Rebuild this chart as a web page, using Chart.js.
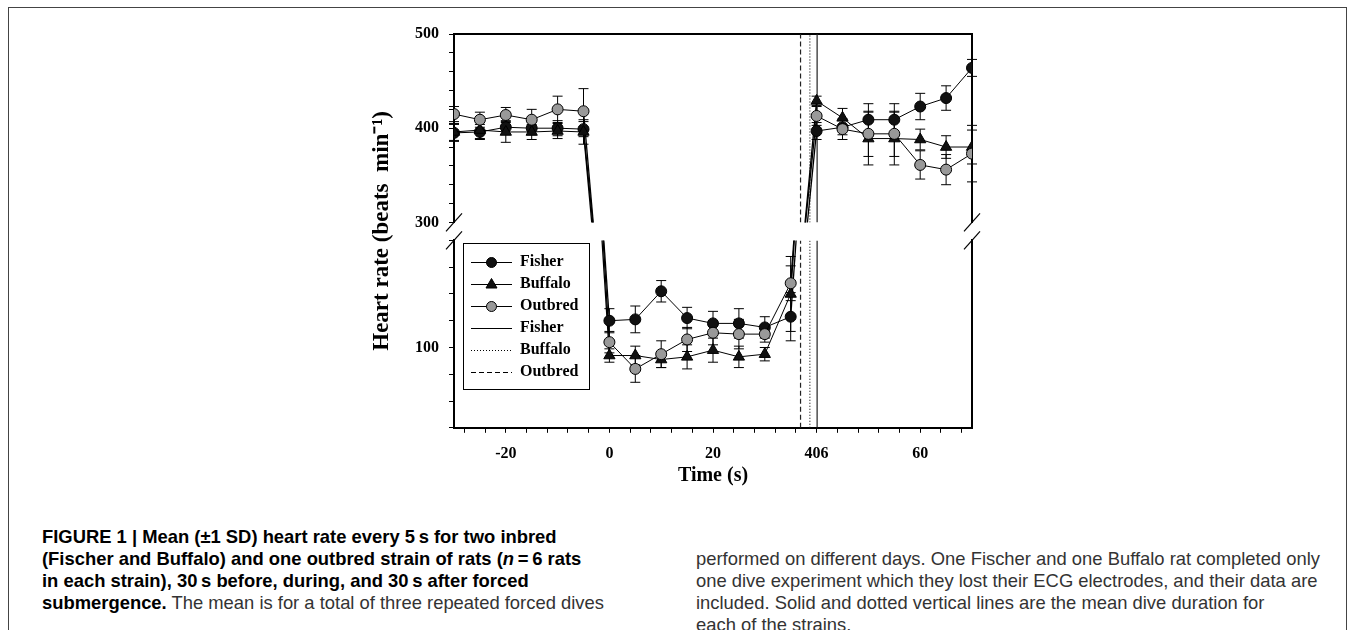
<!DOCTYPE html>
<html>
<head>
<meta charset="utf-8">
<script src="https://cdn.jsdelivr.net/npm/chart.js@4.4.1/dist/chart.umd.min.js"></script>
<style>
  body { margin: 0; background: #fff; width: 1355px; height: 630px; overflow: hidden; position: relative; }
  #frame { position: absolute; left: 8px; top: 7px; width: 1337px; height: 700px; border: 1px solid #444; border-bottom: none; }
  #hr { position: absolute; left: 0; top: 0; }
  .cap { position: absolute; font-family: 'Liberation Sans', Arial, sans-serif; font-size: 18.4px; line-height: 22px; color: #333; white-space: nowrap; }
  .cap b { color: #000; }
</style>
</head>
<body>
<div id="frame"></div>
<canvas id="hr" width="1355" height="500"></canvas>
<div class="cap" style="left:42px;top:526px">
<b>FIGURE 1 | Mean (±1 SD) heart rate every 5&#8201;s for two inbred</b><br>
<b>(Fischer and Buffalo) and one outbred strain of rats (<i>n</i>&#8201;=&#8201;6 rats</b><br>
<b>in each strain), 30&#8201;s before, during, and 30&#8201;s after forced</b><br>
<b>submergence.</b> The mean is for a total of three repeated forced dives
</div>
<div class="cap" style="left:696px;top:548px">
performed on different days. One Fischer and one Buffalo rat completed only<br>
one dive experiment which they lost their ECG electrodes, and their data are<br>
included. Solid and dotted vertical lines are the mean dive duration for<br>
each of the strains.
</div>
<script>
'use strict';

// time points (s)
const preTime = [-30, -25, -20, -15, -10, -5];
const diveTime = [0, 5, 10, 15, 20, 25, 30, 35];
const postTime = [40, 45, 50, 55, 60, 65, 70];

// mean heart rate (beats/min) and SD
const fisherPre = [395, 396, 401, 400, 400, 399];
const fisherPreSd = [9, 8, 7, 7, 8, 8];
const buffaloPre = [396, 398, 396, 396, 397, 396];
const buffaloPreSd = [9, 9, 11, 8, 8, 13];
const outbredPre = [415, 409, 414, 409, 420, 418];
const outbredPreSd = [8, 8, 8, 11, 14, 24];

const fisherDive = [120, 121, 142, 122, 118, 118, 115, 123];
const fisherDiveSd = [9, 10, 8, 8, 9, 11, 8, 18];
const buffaloDive = [94, 94, 91, 93, 98, 93, 95, 140];
const buffaloDiveSd = [5, 7, 6, 9, 9, 8, 5, 28];
const outbredDive = [104, 84, 95, 106, 111, 110, 110, 148];
const outbredDiveSd = [8, 10, 10, 9, 9, 11, 6, 13];

const fisherPost = [397, 401, 409, 409, 423, 432, 464];
const fisherPostSd = [9, 8, 17, 17, 14, 13, 9];
const buffaloPost = [429, 411, 389, 389, 388, 380, 380];
const buffaloPostSd = [5, 10, 28, 28, 11, 12, 18];
const outbredPost = [413, 399, 394, 394, 361, 356, 373];
const outbredPostSd = [10, 11, 24, 24, 15, 16, 30];

// mean dive duration per strain: Fisher, Buffalo, Outbred
const diveMeans = [40.1, 38.7, 36.9];

// broken y axis ranges
const upperRange = [300, 500];
const lowerRange = [40, 180];

// x tick marks every 4 s, only some labelled
const xTickStart = -28;
const xTickEnd = 68;
const xTickStep = 4;
const xTickLabels = { '-20': '-20', '0': '0', '20': '20', '40': '406', '60': '60' };

Chart.defaults.font.family = "'Liberation Serif', 'Times New Roman', serif";
Chart.defaults.font.weight = 'bold';
Chart.defaults.color = '#000';

function pts(times, vals) {
  return times.map((t, i) => ({ x: t, y: vals[i] }));
}

function sampleCanvas(dash, marker, fill) {
  let c = document.createElement('canvas');
  c.width = 52;
  c.height = 14;
  let g = c.getContext('2d');
  g.strokeStyle = '#000';
  g.lineWidth = 1;
  g.setLineDash(dash);
  g.beginPath();
  g.moveTo(11, 7.5);
  g.lineTo(52, 7.5);
  g.stroke();
  g.setLineDash([]);
  g.fillStyle = fill;
  if (marker === 'circle') {
    g.beginPath();
    g.arc(31.5, 7.5, 5, 0, Math.PI * 2);
    g.fill();
    g.stroke();
  } else if (marker === 'triangle') {
    g.beginPath();
    g.moveTo(31.5, 1.5);
    g.lineTo(37, 11);
    g.lineTo(26, 11);
    g.closePath();
    g.fill();
    g.stroke();
  }
  return c;
}

const strains = [
  { name: 'Fisher', pre: fisherPre, preSd: fisherPreSd, dive: fisherDive, diveSd: fisherDiveSd,
    post: fisherPost, postSd: fisherPostSd, marker: 'circle', radius: 5.5, fill: '#111', order: 3 },
  { name: 'Buffalo', pre: buffaloPre, preSd: buffaloPreSd, dive: buffaloDive, diveSd: buffaloDiveSd,
    post: buffaloPost, postSd: buffaloPostSd, marker: 'triangle', radius: 6.5, fill: '#111', order: 2 },
  { name: 'Outbred', pre: outbredPre, preSd: outbredPreSd, dive: outbredDive, diveSd: outbredDiveSd,
    post: outbredPost, postSd: outbredPostSd, marker: 'circle', radius: 5.5, fill: '#999', order: 1 }
];

const durationLines = [
  { name: 'Fisher', dash: [] },
  { name: 'Buffalo', dash: [1, 2] },
  { name: 'Outbred', dash: [5, 3] }
];

let datasets = [];

strains.forEach(s => {
  let seriesStyle = {
    borderColor: '#000', borderWidth: 1, pointStyle: s.marker, pointRadius: s.radius,
    pointBackgroundColor: s.fill, pointBorderColor: '#000', pointBorderWidth: 1, order: s.order
  };
  datasets.push(Object.assign({ label: s.name, data: pts(preTime, s.pre), sd: s.preSd, yAxisID: 'yTop' }, seriesStyle));
  datasets.push(Object.assign({ label: s.name, data: pts(diveTime, s.dive), sd: s.diveSd, yAxisID: 'yBot' }, seriesStyle));
  datasets.push(Object.assign({ label: s.name, data: pts(postTime, s.post), sd: s.postSd, yAxisID: 'yTop' }, seriesStyle));

  // lines crossing the axis break, clipped by each part of the axis
  let down = [
    { x: preTime[preTime.length - 1], y: s.pre[s.pre.length - 1] },
    { x: diveTime[0], y: s.dive[0] }
  ];
  let up = [
    { x: diveTime[diveTime.length - 1], y: s.dive[s.dive.length - 1] },
    { x: postTime[0], y: s.post[0] }
  ];
  ['yTop', 'yBot'].forEach(id => {
    [down, up].forEach(d => {
      datasets.push({ label: s.name, data: d, yAxisID: id, borderColor: '#000', borderWidth: 1.3,
        pointRadius: 0, clip: 0, order: 4 });
    });
  });
});

durationLines.forEach((l, i) => {
  datasets.push({ label: l.name, yAxisID: 'yTop', borderColor: '#222', borderWidth: 1.2, borderDash: l.dash,
    pointRadius: 0, order: 5,
    data: [{ x: diveMeans[i], y: upperRange[0] }, { x: diveMeans[i], y: upperRange[1] }] });
  datasets.push({ label: l.name, yAxisID: 'yBot', borderColor: '#222', borderWidth: 1.2, borderDash: l.dash,
    pointRadius: 0, order: 5,
    data: [{ x: diveMeans[i], y: lowerRange[0] }, { x: diveMeans[i], y: lowerRange[1] }] });
});

const legendRows = strains.map(s => ({ text: s.name, dash: [], marker: s.marker, fill: s.fill }))
  .concat(durationLines.map(l => ({ text: l.name, dash: l.dash, marker: null, fill: null })));

let xTicks = [];
for (let v = xTickStart; v <= xTickEnd; v += xTickStep) {
  xTicks.push(v);
}

const errorBars = {
  id: 'errorBars',
  beforeDatasetsDraw(chart) {
    let ctx = chart.ctx;
    chart.data.datasets.forEach((ds, i) => {
      if (!ds.sd) return;
      let meta = chart.getDatasetMeta(i);
      let yScale = chart.scales[ds.yAxisID];
      ctx.save();
      ctx.beginPath();
      ctx.rect(chart.chartArea.left - 10, yScale.top, chart.chartArea.width + 20, yScale.bottom - yScale.top);
      ctx.clip();
      ctx.strokeStyle = '#000';
      ctx.lineWidth = 1;
      meta.data.forEach((p, j) => {
        let hi = yScale.getPixelForValue(ds.data[j].y + ds.sd[j]);
        let lo = yScale.getPixelForValue(ds.data[j].y - ds.sd[j]);
        ctx.beginPath();
        ctx.moveTo(p.x, hi);
        ctx.lineTo(p.x, lo);
        ctx.moveTo(p.x - 5, hi);
        ctx.lineTo(p.x + 5, hi);
        ctx.moveTo(p.x - 5, lo);
        ctx.lineTo(p.x + 5, lo);
        ctx.stroke();
      });
      ctx.restore();
    });
  }
};

const decorations = {
  id: 'decorations',
  afterDraw(chart) {
    let ctx = chart.ctx;
    let area = chart.chartArea;
    let ys = [chart.scales.yTop.bottom, chart.scales.yBot.top];
    ctx.save();
    ctx.strokeStyle = '#000';
    ctx.lineWidth = 1.2;
    [area.left, area.right].forEach(x => {
      ys.forEach(y => {
        ctx.beginPath();
        ctx.moveTo(x - 8, y + 9);
        ctx.lineTo(x + 8, y - 9);
        ctx.stroke();
      });
    });
    // frame round the legend
    let hb = chart.legend.legendHitBoxes;
    if (hb && hb.length) {
      let left = Math.min(...hb.map(h => h.left)) + 3;
      let right = Math.max(...hb.map(h => h.left + h.width)) + 11;
      let top = hb[0].top - 11;
      let bottom = hb[hb.length - 1].top + hb[hb.length - 1].height + 9;
      ctx.lineWidth = 1;
      ctx.strokeRect(Math.round(left) + 0.5, Math.round(top) + 0.5, Math.round(right - left), Math.round(bottom - top));
    }
    ctx.restore();
  }
};

function hiddenAxis(extra) {
  return Object.assign({
    type: 'linear', min: 0, max: 1,
    ticks: { display: false },
    grid: { display: false, drawTicks: false },
    border: { display: false }
  }, extra);
}

function breakAxis(extra) {
  return Object.assign({
    type: 'linear', position: 'left', stack: 'hr', z: 1,
    afterFit: s => { s.width = 50; },
    grid: { drawOnChartArea: false, tickLength: 5, color: '#000' },
    border: { color: '#000', width: 2 }
  }, extra);
}

function frameAxis(extra) {
  return Object.assign({
    type: 'linear', position: 'right', stack: 'hrR', z: 1, min: 0, max: 1,
    ticks: { display: false },
    grid: { display: false, drawTicks: false },
    border: { color: '#000', width: 2 }
  }, extra);
}

// left boxes are laid out in reverse order: the last one defined is the outermost / topmost
let chartObject = {
  type: 'line',
  data: { datasets: datasets },
  options: {
    responsive: false,
    animation: false,
    events: [],
    layout: { padding: { left: 350, right: 383, top: 34, bottom: 12 } },
    scales: {
      x: {
        type: 'linear', position: 'bottom', min: -30, max: 70,
        afterBuildTicks: axis => { axis.ticks = xTicks.map(v => ({ value: v })); },
        ticks: {
          autoSkip: false, maxRotation: 0, padding: 11, font: { size: 16 },
          callback: v => xTickLabels[v] || ''
        },
        grid: { drawOnChartArea: false, tickLength: 5, color: '#000' },
        border: { color: '#000', width: 2 },
        title: { display: true, text: 'Time (s)', font: { size: 20 }, padding: { top: -10, bottom: 0 } }
      },
      xTop: {
        type: 'linear', position: 'top', min: -30, max: 70,
        ticks: { display: false },
        grid: { display: false, drawTicks: false },
        border: { color: '#000', width: 2 }
      },
      yBot: breakAxis({
        stackWeight: 187, min: lowerRange[0], max: lowerRange[1],
        ticks: { stepSize: 20, autoSkip: false, padding: 10, font: { size: 16 }, callback: v => (v === 100 ? v : '') }
      }),
      yGap: hiddenAxis({ position: 'left', stack: 'hr', stackWeight: 18, afterFit: s => { s.width = 50; } }),
      yTop: breakAxis({
        stackWeight: 188, min: upperRange[0], max: upperRange[1],
        ticks: { stepSize: 20, autoSkip: false, padding: 10, font: { size: 16 }, callback: v => (v % 100 === 0 ? v : '') }
      }),
      yTitle: hiddenAxis({
        position: 'left',
        afterFit: s => { s.width = 54; },
        title: { display: true, text: 'Heart rate (beats  min\u207B\u00B9)', font: { size: 23 }, padding: { top: 18, bottom: 0 } }
      }),
      yTopR: frameAxis({ stackWeight: 188 }),
      yGapR: frameAxis({ stackWeight: 18, border: { display: false } }),
      yBotR: frameAxis({ stackWeight: 187 })
    },
    plugins: {
      tooltip: { enabled: false },
      legend: {
        position: 'chartArea',
        align: 'start',
        title: { display: true, text: '', font: { size: 10, lineHeight: 1 }, padding: { top: 238, bottom: 0 } },
        labels: {
          usePointStyle: true,
          pointStyleWidth: 52,
          padding: 6,
          font: { size: 16 },
          color: '#000',
          generateLabels: () => legendRows.map(r => ({
            text: r.text,
            pointStyle: sampleCanvas(r.dash, r.marker, r.fill),
            fillStyle: '#000', strokeStyle: '#000', lineWidth: 0, hidden: false, fontColor: '#000'
          }))
        }
      }
    }
  },
  plugins: [errorBars, decorations]
};

let ctx = document.getElementById('hr').getContext('2d');
let myChart = new Chart(ctx, chartObject);
</script>
</body>
</html>
